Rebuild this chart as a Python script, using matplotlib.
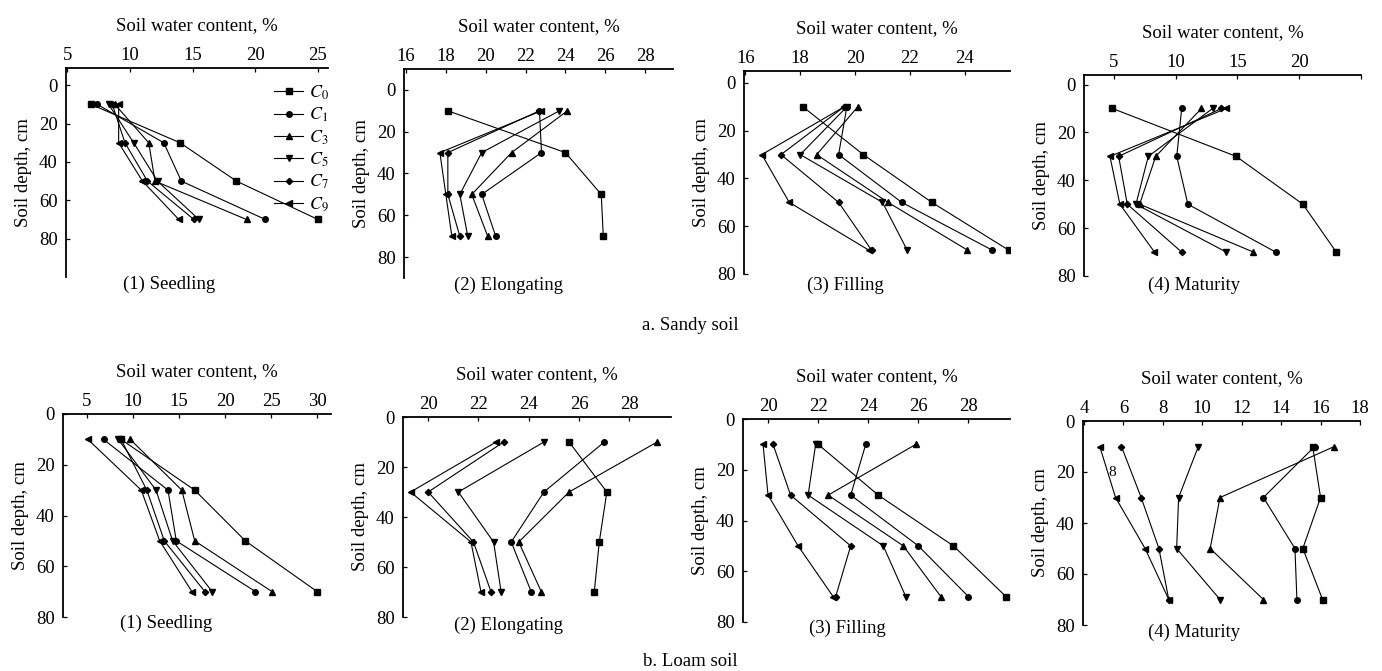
import matplotlib.pyplot as plt

plt.rcParams["font.family"] = ["Liberation Serif", "DejaVu Serif"]
plt.rcParams["mathtext.fontset"] = "stix"

W, H = 1382, 671

depth = [10, 30, 50, 70]
treatments = ["$C_0$", "$C_1$", "$C_3$", "$C_5$", "$C_7$", "$C_9$"]
markers = ["s", "o", "^", "v", "D", "<"]

# rows: C0, C1, C3, C5, C7, C9 ; columns: depth 10, 30, 50, 70 cm
sandy_seedling = [
    [6.9, 14.0, 18.5, 25.0],
    [7.4, 12.7, 14.1, 20.8],
    [8.8, 11.5, 12.0, 19.3],
    [8.3, 10.3, 12.2, 15.5],
    [8.6, 9.6, 11.4, 15.1],
    [9.1, 9.1, 11.0, 13.9],
]
sandy_elongating = [
    [18.1, 24.0, 25.8, 25.9],
    [22.7, 22.8, 19.8, 20.5],
    [24.1, 21.3, 19.3, 20.1],
    [23.7, 19.8, 18.7, 19.1],
    [22.7, 18.1, 18.1, 18.7],
    [22.8, 17.7, 18.0, 18.3],
]
sandy_filling = [
    [18.1, 20.3, 22.8, 25.6],
    [19.7, 19.4, 21.7, 25.0],
    [20.1, 18.6, 21.2, 24.1],
    [19.7, 18.0, 21.0, 21.9],
    [19.6, 17.3, 19.4, 20.6],
    [19.6, 16.6, 17.6, 20.5],
]
sandy_maturity = [
    [4.9, 14.9, 20.3, 23.0],
    [10.5, 10.1, 11.0, 18.1],
    [12.1, 8.4, 7.1, 16.3],
    [13.0, 7.8, 6.8, 14.1],
    [13.7, 5.4, 6.1, 10.5],
    [14.1, 4.7, 5.5, 8.3],
]
loam_seedling = [
    [8.7, 16.7, 22.2, 30.0],
    [6.8, 13.8, 14.7, 23.3],
    [9.7, 15.3, 16.7, 25.1],
    [8.4, 12.5, 14.3, 18.6],
    [8.7, 11.5, 13.4, 17.8],
    [5.1, 10.9, 12.9, 16.4],
]
loam_elongating = [
    [25.6, 27.1, 26.8, 26.6],
    [27.0, 24.6, 23.3, 24.1],
    [29.1, 25.6, 23.6, 24.5],
    [24.6, 21.2, 22.6, 22.9],
    [23.0, 20.0, 21.8, 22.5],
    [22.7, 19.3, 21.7, 22.1],
]
loam_filling = [
    [22.0, 24.4, 27.4, 29.5],
    [23.9, 23.3, 26.0, 28.0],
    [25.9, 22.4, 25.4, 26.9],
    [21.9, 21.6, 24.6, 25.5],
    [20.2, 20.9, 23.3, 22.7],
    [19.8, 20.0, 21.2, 22.6],
]
loam_maturity = [
    [15.6, 16.0, 15.1, 16.1],
    [15.7, 13.1, 14.7, 14.8],
    [16.7, 10.9, 10.4, 13.1],
    [9.8, 8.8, 8.7, 10.9],
    [5.9, 6.9, 7.8, 8.3],
    [4.8, 5.6, 7.1, 8.3],
]

stage_names = ["(1) Seedling", "(2) Elongating", "(3) Filling", "(4) Maturity"]
xticks_list = [
    [5, 10, 15, 20, 25], [16, 18, 20, 22, 24, 26, 28], [16, 18, 20, 22, 24], [5, 10, 15, 20, 25],
    [5, 10, 15, 20, 25, 30], [20, 22, 24, 26, 28], [20, 22, 24, 26, 28], [4, 6, 8, 10, 12, 14, 16, 18],
]
yticks = [0, 20, 40, 60, 80]

# layout in pixels: (left, top, right, bottom), xlim, ylim, stage label centre
panels = [
    (sandy_seedling, (66, 68, 328, 277), (4.9, 25.8), (100, -9), (169, 284)),
    (sandy_elongating, (404, 69, 673, 278), (15.9, 29.4), (90, -10), (508, 285)),
    (sandy_filling, (744, 71, 1010, 274), (15.95, 25.65), (80, -5), (845, 285)),
    (sandy_maturity, (1084, 75, 1361, 276), (2.6, 25.0), (80, -4), (1194, 285)),
    (loam_seedling, (63, 414, 331, 617), (2.4, 31.5), (80, 0), (166, 623)),
    (loam_elongating, (403, 417, 671, 617), (19.0, 29.65), (80, 0), (509, 625)),
    (loam_filling, (743, 419, 1010, 622), (19.0, 29.66), (80, 0), (847, 628)),
    (loam_maturity, (1083, 421, 1360, 625), (3.95, 18.0), (80, 0), (1194, 632)),
]

FS = 13.5

fig = plt.figure(figsize=(W / 100, H / 100), dpi=100, facecolor="white")

for i, (data, (l, t, r, b), xlim, ylim, (lx, ly)) in enumerate(panels):
    ax = fig.add_axes([l / W, 1 - b / H, (r - l) / W, (b - t) / H])
    for series, m, lab in zip(data, markers, treatments):
        ms = 3.2 if m == "D" else 4
        ax.plot(series, depth, color="black", lw=0.8, marker=m, ms=ms,
                mfc="black", mec="black", label=lab)
    ax.set_xlim(*xlim)
    ax.set_ylim(*ylim)
    xt = xticks_list[i]
    ax.set_xticks(xt)
    if i == 3:
        ax.set_xticklabels([str(v) if v != 25 else "" for v in xt])
    ax.set_yticks(yticks)
    ax.xaxis.tick_top()
    ax.xaxis.set_label_position("top")
    ax.set_xlabel("Soil water content, %", fontsize=FS, labelpad=12)
    ax.set_ylabel("Soil depth, cm", fontsize=FS, labelpad=5)
    ax.tick_params(axis="both", direction="in", length=3, width=0.9, labelsize=FS)
    ax.tick_params(axis="x", pad=3)
    ax.tick_params(axis="y", pad=6)
    ax.spines["right"].set_visible(False)
    ax.spines["bottom"].set_visible(False)
    ax.spines["left"].set_linewidth(1.3)
    ax.spines["top"].set_linewidth(1.3)
    fig.text(lx / W, 1 - ly / H, stage_names[i % 4], ha="center", va="center", fontsize=FS)
    if i == 0:
        ax.legend(loc="upper right", bbox_to_anchor=(1.03, 0.96), frameon=False,
                  fontsize=13, handlelength=1.6, handletextpad=0.3,
                  labelspacing=0.22, borderaxespad=0)

fig.text(690 / W, 1 - 325 / H, "a. Sandy soil", ha="center", va="center", fontsize=FS)
fig.text(690 / W, 1 - 662 / H, "b. Loam soil", ha="center", va="center", fontsize=FS)
fig.text(1112 / W, 1 - 472 / H, "8", ha="center", va="center", fontsize=11)

fig.savefig("out.png", dpi=100, facecolor="white")
